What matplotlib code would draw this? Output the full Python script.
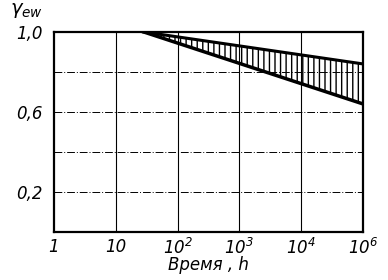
import numpy as np
import matplotlib.pyplot as plt

plt.rcParams['font.family'] = 'DejaVu Sans'
plt.rcParams['font.style'] = 'italic'
plt.rcParams['mathtext.fontset'] = 'custom'
plt.rcParams['mathtext.rm'] = 'DejaVu Sans:italic'
plt.rcParams['mathtext.it'] = 'DejaVu Sans:italic'
plt.rcParams['hatch.linewidth'] = 1.0

# x axis: evenly spaced time marks (last step skips 10^5)
x_ticks = [0, 1, 2, 3, 4, 5]
x_labels = ['1', '10', '$10^2$', '$10^3$', '$10^4$', '$10^6$']
y_ticks = [0.2, 0.6, 1.0]
y_labels = ['0,2', '0,6', '1,0']
y_grid = [0.2, 0.4, 0.6, 0.8]

# band boundaries (x in tick-position units)
band_x = [1.45, 5.0]
upper_y = [1.0, 0.84]
lower_y = [1.0, 0.64]

fig = plt.figure(figsize=(3.88, 2.8), dpi=100)
ax = fig.add_axes([0.139, 0.171, 0.797, 0.715])

for x in x_ticks[1:-1]:
    ax.axvline(x, color='black', lw=0.8)
for y in y_grid:
    ax.axhline(y, color='black', lw=0.7, ls='-.', dashes=(8, 2, 1, 2))

ax.fill_between(band_x, lower_y, upper_y, facecolor='none', edgecolor='black',
                hatch='|||', linewidth=0)
ax.plot(band_x, upper_y, color='black', lw=2.2)
ax.plot(band_x, lower_y, color='black', lw=2.5)

ax.set_xlim(0, 5)
ax.set_ylim(0, 1.0)
ax.set_xticks(x_ticks)
ax.set_xticklabels(x_labels, fontsize=12)
ax.set_yticks(y_ticks)
ax.set_yticklabels(y_labels, fontsize=12)
ax.tick_params(axis='x', length=0, pad=4)
ax.tick_params(axis='y', length=0, pad=8)
for s in ax.spines.values():
    s.set_linewidth(1.6)

ax.set_xlabel('Время , h', fontsize=12, labelpad=-1)
fig.text(0.025, 0.995, r'$\gamma_{ew}$', fontsize=14, va='top')

fig.savefig('out.png', dpi=100)
